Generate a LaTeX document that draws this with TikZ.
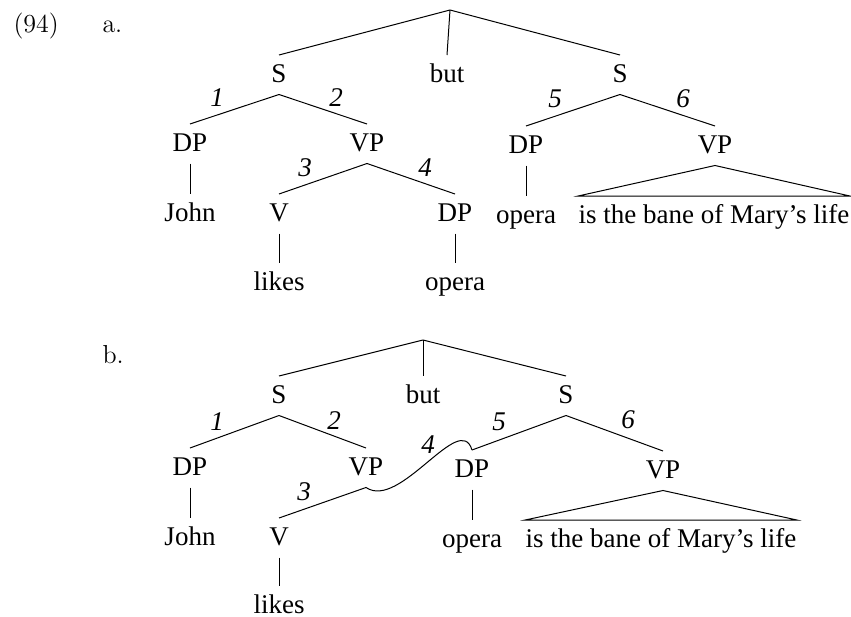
\documentclass[tikz,border=0pt]{standalone}
\usepackage{fontspec}
\newfontfamily\treefont{Liberation Serif}
\begin{document}
\begin{tikzpicture}[x=0.5pt,y=-0.5pt,line width=0.5pt]
    \tikzstyle{every node}=[anchor=base,font=\treefont\fontsize{13.5}{16}\selectfont,text height=7.25pt,text depth=0pt,inner xsep=0pt,inner ysep=6pt];
    \tikzstyle{num}=[font=\treefont\itshape\fontsize{13.5}{16}\selectfont];
    \tikzstyle{ex}=[anchor=base west,font=\fontsize{13}{15}\selectfont];
    \useasboundingbox (0,0) rectangle (851,616);

    \node[ex] at (13,32)  (ex)  {(94)};
    \node[ex] at (102,32) (exa) {a.};
    \node[ex] at (102,363) (exb) {b.};

    % (a)
    \coordinate (ra) at (450,10);
    \node at (279,82)  (sa1)  {S};
    \node at (447,82)  (buta) {but};
    \node at (620,82)  (sa2)  {S};
    \node at (190,151) (dpa1) {DP};
    \node at (367,151) (vpa1) {VP};
    \node at (526,153) (dpa3) {DP};
    \node at (715,153) (vpa2) {VP};
    \node at (190,221) (johna) {John};
    \node at (279,221) (va)   {V};
    \node at (455,221) (dpa2) {DP};
    \node at (526,223) (operaa2) {opera};
    \node at (714,223) (lifea) {is the bane of Mary’s life};
    \node at (279,290) (likesa) {likes};
    \node at (455,290) (operaa1) {opera};

    \draw (ra) -- (sa1.north);
    \draw (ra) -- (buta.north);
    \draw (ra) -- (sa2.north);
    \draw (sa1.south) -- (dpa1.north);
    \draw (sa1.south) -- (vpa1.north);
    \draw (dpa1.south) -- (johna.north);
    \draw (vpa1.south) -- (va.north);
    \draw (vpa1.south) -- (dpa2.north);
    \draw (va.south) -- (likesa.north);
    \draw (dpa2.south) -- (operaa1.north);
    \draw (sa2.south) -- (dpa3.north);
    \draw (sa2.south) -- (vpa2.north);
    \draw (dpa3.south) -- (operaa2.north);
    \draw (vpa2.south) -- (lifea.north west) -- (lifea.north east) -- cycle;

    \node[num] at (217,106) (na1) {1};
    \node[num] at (336,106) (na2) {2};
    \node[num] at (305,176) (na3) {3};
    \node[num] at (425,176) (na4) {4};
    \node[num] at (555,107) (na5) {5};
    \node[num] at (683,107) (na6) {6};

    % (b)
    \coordinate (rb) at (423,340);
    \node at (279,403) (sb1)  {S};
    \node at (423,403) (butb) {but};
    \node at (566,403) (sb2)  {S};
    \node at (190,475) (dpb1) {DP};
    \node at (366,475) (vpb1) {VP};
    \node at (472,477) (dpb2) {DP};
    \node at (663,478) (vpb2) {VP};
    \node at (190,545) (johnb) {John};
    \node at (279,545) (vb)   {V};
    \node at (472,547) (operab) {opera};
    \node at (661,547) (lifeb) {is the bane of Mary’s life};
    \node at (279,613) (likesb) {likes};

    \draw (rb) -- (sb1.north);
    \draw (rb) -- (butb.north);
    \draw (rb) -- (sb2.north);
    \draw (sb1.south) -- (dpb1.north);
    \draw (sb1.south) -- (vpb1.north);
    \draw (dpb1.south) -- (johnb.north);
    \draw (vb.north) -- (vpb1.south) .. controls +(34,23) and +(-12,-40) .. (dpb2.north);
    \draw (vb.south) -- (likesb.north);
    \draw (sb2.south) -- (dpb2.north);
    \draw (sb2.south) -- (vpb2.north);
    \draw (dpb2.south) -- (operab.north);
    \draw (vpb2.south) -- (lifeb.north west) -- (lifeb.north east) -- cycle;

    \node[num] at (217,430) (nb1) {1};
    \node[num] at (334,429) (nb2) {2};
    \node[num] at (304,500) (nb3) {3};
    \node[num] at (428,453) (nb4) {4};
    \node[num] at (499,430) (nb5) {5};
    \node[num] at (628,428) (nb6) {6};
\end{tikzpicture}
\end{document}
